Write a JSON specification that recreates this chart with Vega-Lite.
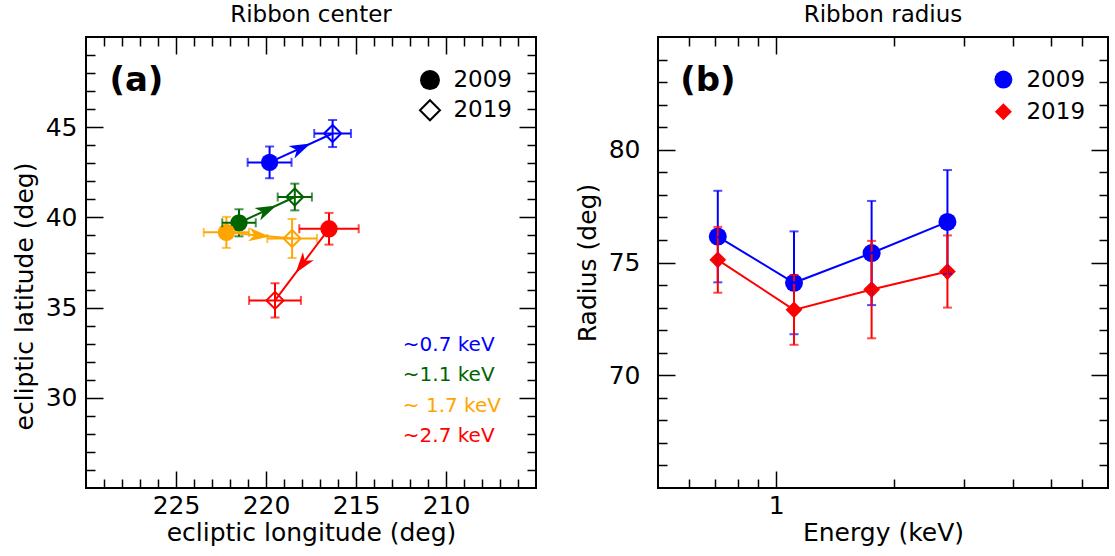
{
  "$schema": "https://vega.github.io/schema/vega-lite/v6.json",
  "autosize": {"type": "pad"},
  "padding": {"left": 11, "top": 3, "right": 5, "bottom": 5},
  "background": "white",
  "spacing": 122,
  "bounds": "flush",
  "config": {
    "font": "DejaVu Sans",
    "view": {"stroke": "black", "strokeWidth": 2},
    "axis": {
      "domain": false,
      "grid": false,
      "tickColor": "black",
      "tickWidth": 1.5,
      "labelFont": "DejaVu Sans",
      "labelFontSize": 25,
      "labelColor": "black",
      "titleFont": "DejaVu Sans",
      "titleFontSize": 25,
      "titleFontWeight": "normal",
      "titleColor": "black",
      "labelFlush": false,
      "labelOverlap": false
    },
    "title": {"font": "DejaVu Sans", "fontSize": 23, "fontWeight": "normal", "color": "black", "anchor": "middle", "frame": "group", "baseline": "alphabetic", "offset": 9}
  },
  "datasets": {
    "center": [
      {"energy": "0.7", "year": 2009, "lon": 219.8, "lat": 43.05, "lonErr": 1.22, "latErr": 0.88},
      {"energy": "0.7", "year": 2019, "lon": 216.3, "lat": 44.65, "lonErr": 1.02, "latErr": 0.75},
      {"energy": "1.1", "year": 2009, "lon": 221.5, "lat": 39.7, "lonErr": 0.93, "latErr": 0.75},
      {"energy": "1.1", "year": 2019, "lon": 218.4, "lat": 41.13, "lonErr": 0.95, "latErr": 0.74},
      {"energy": "1.7", "year": 2009, "lon": 222.2, "lat": 39.17, "lonErr": 1.26, "latErr": 0.86},
      {"energy": "1.7", "year": 2019, "lon": 218.55, "lat": 38.83, "lonErr": 1.38, "latErr": 1.08},
      {"energy": "2.7", "year": 2009, "lon": 216.5, "lat": 39.37, "lonErr": 1.65, "latErr": 0.88},
      {"energy": "2.7", "year": 2019, "lon": 219.5, "lat": 35.4, "lonErr": 1.44, "latErr": 0.95}
    ],
    "radius": [
      {"energy": 0.71, "year": 2009, "radius": 76.15, "err": 2.03},
      {"energy": 1.11, "year": 2009, "radius": 74.1, "err": 2.28},
      {"energy": 1.75, "year": 2009, "radius": 75.42, "err": 2.31},
      {"energy": 2.73, "year": 2009, "radius": 76.8, "err": 2.3},
      {"energy": 0.71, "year": 2019, "radius": 75.12, "err": 1.46},
      {"energy": 1.11, "year": 2019, "radius": 72.9, "err": 1.55},
      {"energy": 1.75, "year": 2019, "radius": 73.8, "err": 2.16},
      {"energy": 2.73, "year": 2019, "radius": 74.6, "err": 1.6}
    ],
    "one": [{}]
  },
  "hconcat": [
    {
      "width": 450,
      "height": 451,
      "title": {"text": "Ribbon center"},
      "data": {"name": "center"},
      "resolve": {"axis": {"x": "independent", "y": "independent"}},
      "layer": [
        {
          "transform": [{"filter": "datum.year === 2009"}],
          "mark": {"type": "point", "shape": "circle", "filled": true, "size": 300, "opacity": 1},
          "encoding": {
            "x": {"field": "lon", "type": "quantitative", "scale": {"domain": [205, 230], "reverse": true, "nice": false, "zero": false},
                  "axis": {"orient": "top", "values": [210, 215, 220, 225], "tickSize": -17, "labels": false, "title": null}},
            "y": {"field": "lat", "type": "quantitative", "scale": {"domain": [25, 50], "nice": false, "zero": false},
                  "axis": {"orient": "right", "values": [30, 35, 40, 45], "tickSize": -17, "labels": false, "title": null}},
            "color": {"field": "energy", "type": "nominal", "scale": {"domain": ["0.7", "1.1", "1.7", "2.7"], "range": ["#0000ff", "#006400", "#ffa500", "#ff0000"]}, "legend": null}
          }
        },
        {
          "transform": [{"filter": "datum.year === 2019"}],
          "mark": {"type": "point", "shape": "diamond", "filled": false, "size": 289, "strokeWidth": 2, "opacity": 1},
          "encoding": {
            "x": {"field": "lon", "type": "quantitative",
                  "axis": {"orient": "top", "values": [206, 207, 208, 209, 211, 212, 213, 214, 216, 217, 218, 219, 221, 222, 223, 224, 226, 227, 228, 229], "tickSize": -9, "labels": false, "title": null}},
            "y": {"field": "lat", "type": "quantitative",
                  "axis": {"orient": "right", "values": [26, 27, 28, 29, 31, 32, 33, 34, 36, 37, 38, 39, 41, 42, 43, 44, 46, 47, 48, 49], "tickSize": -9, "labels": false, "title": null}},
            "color": {"field": "energy", "type": "nominal", "legend": null}
          }
        },
        {
          "mark": {"type": "errorbar", "ticks": true, "size": 9, "thickness": 2},
          "encoding": {
            "x": {"field": "lon", "type": "quantitative", "axis": null},
            "y": {"field": "lat", "type": "quantitative", "axis": null},
            "yError": {"field": "latErr"},
            "color": {"field": "energy", "type": "nominal", "legend": null}
          }
        },
        {
          "mark": {"type": "errorbar", "ticks": true, "size": 9, "thickness": 2},
          "encoding": {
            "x": {"field": "lon", "type": "quantitative", "axis": null},
            "xError": {"field": "lonErr"},
            "y": {"field": "lat", "type": "quantitative", "axis": null},
            "color": {"field": "energy", "type": "nominal", "legend": null}
          }
        },
        {
          "mark": {"type": "line", "strokeWidth": 2},
          "encoding": {
            "x": {"field": "lon", "type": "quantitative",
                  "axis": {"orient": "bottom", "values": [210, 215, 220, 225], "tickSize": -17, "labelPadding": 22, "format": "d", "title": "ecliptic longitude (deg)", "titlePadding": 2}},
            "y": {"field": "lat", "type": "quantitative",
                  "axis": {"orient": "left", "values": [30, 35, 40, 45], "tickSize": -17, "labelPadding": 26, "format": "d", "title": "ecliptic latitude (deg)", "titlePadding": 8, "titleY": 259}},
            "color": {"field": "energy", "type": "nominal", "legend": null},
            "order": {"field": "year", "type": "quantitative"}
          }
        },
        {
          "transform": [
            {"aggregate": [{"op": "argmin", "field": "year", "as": "a"}, {"op": "argmax", "field": "year", "as": "b"}], "groupby": ["energy"]},
            {"calculate": "(datum.a.lon + datum.b.lon) / 2", "as": "midLon"},
            {"calculate": "(datum.a.lat + datum.b.lat) / 2", "as": "midLat"},
            {"calculate": "atan2(datum.a.lat - datum.b.lat, datum.a.lon - datum.b.lon) * 180 / PI", "as": "heading"}
          ],
          "mark": {"type": "point", "shape": "M1,0L-1,-0.65L-0.45,0L-1,0.65Z", "filled": true, "size": 440, "opacity": 1},
          "encoding": {
            "x": {"field": "midLon", "type": "quantitative",
                  "axis": {"orient": "bottom", "values": [206, 207, 208, 209, 211, 212, 213, 214, 216, 217, 218, 219, 221, 222, 223, 224, 226, 227, 228, 229], "tickSize": -9, "labels": false, "title": null}},
            "y": {"field": "midLat", "type": "quantitative",
                  "axis": {"orient": "left", "values": [26, 27, 28, 29, 31, 32, 33, 34, 36, 37, 38, 39, 41, 42, 43, 44, 46, 47, 48, 49], "tickSize": -9, "labels": false, "title": null}},
            "angle": {"field": "heading", "type": "quantitative", "scale": null},
            "color": {"field": "energy", "type": "nominal", "legend": null}
          }
        },
        {
          "data": {"name": "one"},
          "mark": {"type": "text", "font": "DejaVu Sans", "fontSize": 34, "fontWeight": "bold", "align": "center", "baseline": "middle", "fill": "black"},
          "encoding": {"x": {"datum": 227.2, "axis": null}, "y": {"datum": 47.57, "axis": null}, "text": {"value": "(a)"}}
        },
        {
          "data": {"name": "one"},
          "mark": {"type": "point", "shape": "circle", "filled": true, "size": 400, "opacity": 1, "color": "black"},
          "encoding": {"x": {"datum": 210.89, "axis": null}, "y": {"datum": 47.61, "axis": null}}
        },
        {
          "data": {"name": "one"},
          "mark": {"type": "point", "shape": "diamond", "filled": false, "size": 400, "strokeWidth": 2, "opacity": 1, "color": "black"},
          "encoding": {"x": {"datum": 210.89, "axis": null}, "y": {"datum": 45.94, "axis": null}}
        },
        {
          "data": {"name": "one"},
          "mark": {"type": "text", "font": "DejaVu Sans", "fontSize": 23, "align": "left", "baseline": "middle", "fill": "black"},
          "encoding": {"x": {"datum": 209.59, "axis": null}, "y": {"datum": 47.61, "axis": null}, "text": {"value": "2009"}}
        },
        {
          "data": {"name": "one"},
          "mark": {"type": "text", "font": "DejaVu Sans", "fontSize": 23, "align": "left", "baseline": "middle", "fill": "black"},
          "encoding": {"x": {"datum": 209.59, "axis": null}, "y": {"datum": 45.94, "axis": null}, "text": {"value": "2019"}}
        },
        {
          "data": {"name": "one"},
          "mark": {"type": "text", "font": "DejaVu Sans", "fontSize": 20, "align": "left", "baseline": "middle", "fill": "#0000ff"},
          "encoding": {"x": {"datum": 212.4, "axis": null}, "y": {"datum": 32.94, "axis": null}, "text": {"value": "~0.7 keV"}}
        },
        {
          "data": {"name": "one"},
          "mark": {"type": "text", "font": "DejaVu Sans", "fontSize": 20, "align": "left", "baseline": "middle", "fill": "#006400"},
          "encoding": {"x": {"datum": 212.4, "axis": null}, "y": {"datum": 31.24, "axis": null}, "text": {"value": "~1.1 keV"}}
        },
        {
          "data": {"name": "one"},
          "mark": {"type": "text", "font": "DejaVu Sans", "fontSize": 20, "align": "left", "baseline": "middle", "fill": "#ffa500"},
          "encoding": {"x": {"datum": 212.4, "axis": null}, "y": {"datum": 29.57, "axis": null}, "text": {"value": "~ 1.7 keV"}}
        },
        {
          "data": {"name": "one"},
          "mark": {"type": "text", "font": "DejaVu Sans", "fontSize": 20, "align": "left", "baseline": "middle", "fill": "#ff0000"},
          "encoding": {"x": {"datum": 212.4, "axis": null}, "y": {"datum": 27.89, "axis": null}, "text": {"value": "~2.7 keV"}}
        }
      ]
    },
    {
      "width": 450,
      "height": 451,
      "title": {"text": "Ribbon radius"},
      "data": {"name": "radius"},
      "resolve": {"axis": {"x": "independent", "y": "independent"}},
      "layer": [
        {
          "transform": [{"filter": "datum.year === 2009"}],
          "mark": {"type": "point", "shape": "circle", "filled": true, "size": 324, "opacity": 1, "color": "#0000ff"},
          "encoding": {
            "x": {"field": "energy", "type": "quantitative", "scale": {"type": "log", "domain": [0.5, 7], "nice": false, "zero": false},
                  "axis": {"orient": "top", "values": [1], "tickSize": -17, "labels": false, "title": null}},
            "y": {"field": "radius", "type": "quantitative", "scale": {"domain": [65, 85], "nice": false, "zero": false},
                  "axis": {"orient": "right", "values": [70, 75, 80], "tickSize": -17, "labels": false, "title": null}}
          }
        },
        {
          "transform": [{"filter": "datum.year === 2019"}],
          "mark": {"type": "point", "shape": "diamond", "filled": true, "size": 280, "opacity": 1, "color": "#ff0000"},
          "encoding": {
            "x": {"field": "energy", "type": "quantitative",
                  "axis": {"orient": "top", "values": [0.6, 0.7, 0.8, 0.9, 2, 3, 4, 5, 6], "tickSize": -9, "labels": false, "title": null}},
            "y": {"field": "radius", "type": "quantitative",
                  "axis": {"orient": "right", "values": [66, 67, 68, 69, 71, 72, 73, 74, 76, 77, 78, 79, 81, 82, 83, 84], "tickSize": -9, "labels": false, "title": null}}
          }
        },
        {
          "transform": [{"filter": "datum.year === 2009"}],
          "mark": {"type": "errorbar", "ticks": true, "size": 9, "thickness": 2, "color": "#0000ff"},
          "encoding": {
            "x": {"field": "energy", "type": "quantitative", "axis": null},
            "y": {"field": "radius", "type": "quantitative", "axis": null},
            "yError": {"field": "err"}
          }
        },
        {
          "transform": [{"filter": "datum.year === 2019"}],
          "mark": {"type": "errorbar", "ticks": true, "size": 9, "thickness": 2, "color": "#ff0000"},
          "encoding": {
            "x": {"field": "energy", "type": "quantitative", "axis": null},
            "y": {"field": "radius", "type": "quantitative", "axis": null},
            "yError": {"field": "err"}
          }
        },
        {
          "transform": [{"filter": "datum.year === 2009"}],
          "mark": {"type": "line", "strokeWidth": 2, "color": "#0000ff"},
          "encoding": {
            "x": {"field": "energy", "type": "quantitative",
                  "axis": {"orient": "bottom", "values": [1], "tickSize": -17, "labelPadding": 22, "format": "~g", "title": "Energy (keV)", "titlePadding": 2}},
            "y": {"field": "radius", "type": "quantitative",
                  "axis": {"orient": "left", "values": [70, 75, 80], "tickSize": -17, "labelPadding": 35, "format": "d", "title": "Radius (deg)", "titlePadding": 8}}
          }
        },
        {
          "transform": [{"filter": "datum.year === 2019"}],
          "mark": {"type": "line", "strokeWidth": 2, "color": "#ff0000"},
          "encoding": {
            "x": {"field": "energy", "type": "quantitative",
                  "axis": {"orient": "bottom", "values": [0.6, 0.7, 0.8, 0.9, 2, 3, 4, 5, 6], "tickSize": -9, "labels": false, "title": null}},
            "y": {"field": "radius", "type": "quantitative",
                  "axis": {"orient": "left", "values": [66, 67, 68, 69, 71, 72, 73, 74, 76, 77, 78, 79, 81, 82, 83, 84], "tickSize": -9, "labels": false, "title": null}}
          }
        },
        {
          "data": {"name": "one"},
          "mark": {"type": "text", "font": "DejaVu Sans", "fontSize": 34, "fontWeight": "bold", "align": "center", "baseline": "middle", "fill": "black"},
          "encoding": {"x": {"datum": 0.67, "axis": null}, "y": {"datum": 83.06, "axis": null}, "text": {"value": "(b)"}}
        },
        {
          "data": {"name": "one"},
          "mark": {"type": "point", "shape": "circle", "filled": true, "size": 324, "opacity": 1, "color": "#0000ff"},
          "encoding": {"x": {"datum": 3.79, "axis": null}, "y": {"datum": 83.11, "axis": null}}
        },
        {
          "data": {"name": "one"},
          "mark": {"type": "point", "shape": "diamond", "filled": true, "size": 289, "opacity": 1, "color": "#ff0000"},
          "encoding": {"x": {"datum": 3.79, "axis": null}, "y": {"datum": 81.69, "axis": null}}
        },
        {
          "data": {"name": "one"},
          "mark": {"type": "text", "font": "DejaVu Sans", "fontSize": 23, "align": "left", "baseline": "middle", "fill": "black"},
          "encoding": {"x": {"datum": 4.34, "axis": null}, "y": {"datum": 83.11, "axis": null}, "text": {"value": "2009"}}
        },
        {
          "data": {"name": "one"},
          "mark": {"type": "text", "font": "DejaVu Sans", "fontSize": 23, "align": "left", "baseline": "middle", "fill": "black"},
          "encoding": {"x": {"datum": 4.34, "axis": null}, "y": {"datum": 81.69, "axis": null}, "text": {"value": "2019"}}
        }
      ]
    }
  ]
}
